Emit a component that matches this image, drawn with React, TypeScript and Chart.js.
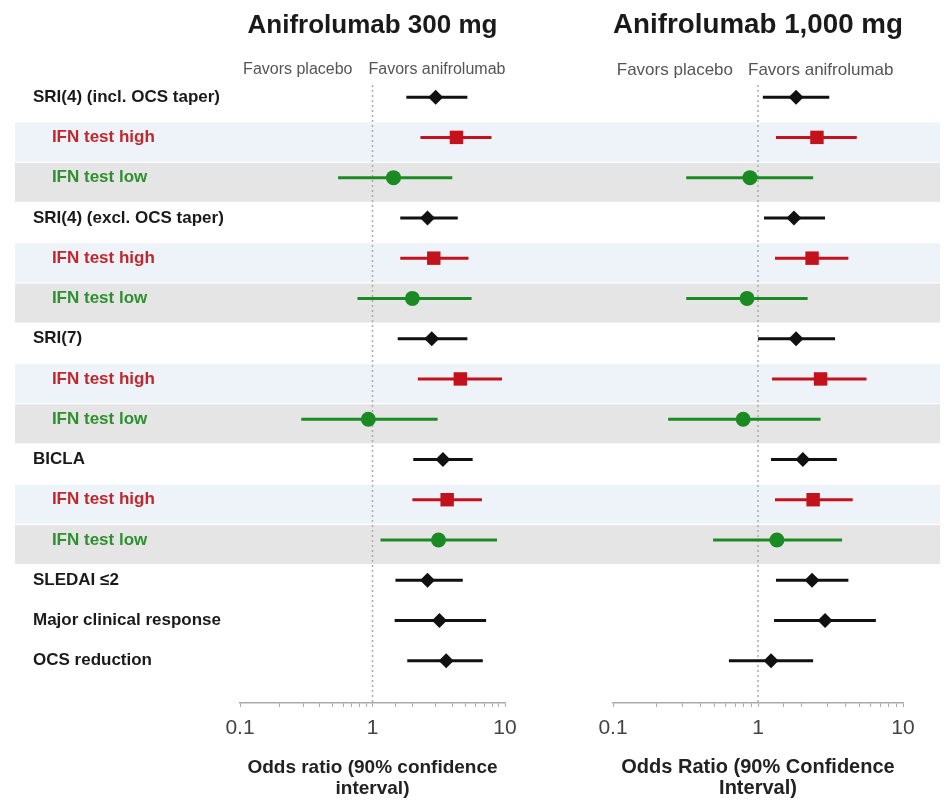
import React, { useEffect, useRef } from 'react';
import { Chart, registerables } from 'chart.js';

Chart.register(...registerables);

const rowLabels = [
  'SRI(4) (incl. OCS taper)', 'IFN test high', 'IFN test low',
  'SRI(4) (excl. OCS taper)', 'IFN test high', 'IFN test low',
  'SRI(7)', 'IFN test high', 'IFN test low',
  'BICLA', 'IFN test high', 'IFN test low',
  'SLEDAI ≤2', 'Major clinical response', 'OCS reduction',
];
const rowGroups = ['all', 'high', 'low', 'all', 'high', 'low', 'all', 'high', 'low', 'all', 'high', 'low', 'all', 'all', 'all'];

const or300 = [3.0, 4.3, 1.44, 2.6, 2.9, 2.0, 2.8, 4.6, 0.93, 3.4, 3.66, 3.15, 2.6, 3.2, 3.6];
const lo300 = [1.8, 2.3, 0.55, 1.62, 1.62, 0.77, 1.55, 2.2, 0.29, 2.03, 2.0, 1.15, 1.49, 1.47, 1.83];
const hi300 = [5.2, 7.9, 4.0, 4.4, 5.3, 5.6, 5.2, 9.5, 3.1, 5.7, 6.7, 8.7, 4.8, 7.2, 6.8];

const or1000 = [1.83, 2.55, 0.88, 1.77, 2.36, 0.84, 1.83, 2.7, 0.79, 2.04, 2.4, 1.35, 2.36, 2.9, 1.23];
const lo1000 = [1.08, 1.33, 0.32, 1.1, 1.31, 0.32, 1.0, 1.25, 0.24, 1.23, 1.31, 0.49, 1.33, 1.29, 0.63];
const hi1000 = [3.1, 4.8, 2.4, 2.9, 4.2, 2.2, 3.4, 5.6, 2.7, 3.5, 4.5, 3.8, 4.2, 6.5, 2.4];

const xTickLabels = [0.1, 1, 10];

const FONT = "'Liberation Sans', Arial, Helvetica, sans-serif";
const groupColor: Record<string, string> = { all: '#111111', high: '#c4121c', low: '#1c8a22' };
const labelColor: Record<string, string> = { all: '#1a1a1a', high: '#c0282d', low: '#2f9030' };
const bandColor: Record<string, string> = { high: '#eef3f9', low: '#e5e5e5' };

type PanelOpts = {
  or: number[]; lo: number[]; hi: number[];
  title: string; titleSize: number; titlePad: { top: number; bottom: number };
  axisTitle: string[]; axisTitleSize: number;
  showLabels: boolean; padLeft: number; padRight: number; yWidth: number;
  bandLeft: number; bandRight: number;
  favorsFont: number; placeboGap: number; anifroGap: number;
};

function buildChart(canvas: HTMLCanvasElement, o: PanelOpts) {
  const forestPlugin = {
    id: 'forest',
    beforeDraw(chart: any) {
      const { ctx } = chart;
      const y = chart.scales.y;
      ctx.save();
      rowGroups.forEach((g, i) => {
        if (g === 'all') return;
        const t = y.getPixelForValue(i - 0.37);
        const b = y.getPixelForValue(i + 0.6);
        ctx.fillStyle = bandColor[g];
        ctx.fillRect(o.bandLeft, Math.min(t, b), o.bandRight - o.bandLeft, Math.abs(b - t));
      });
      ctx.restore();
    },
    beforeDatasetsDraw(chart: any) {
      const { ctx, chartArea } = chart;
      const x = chart.scales.x;
      const y = chart.scales.y;
      const x1 = x.getPixelForValue(1);
      ctx.save();
      ctx.strokeStyle = '#aaaaaa';
      ctx.lineWidth = 1.5;
      ctx.setLineDash([2, 3]);
      ctx.beginPath();
      ctx.moveTo(x1, chartArea.top + 8);
      ctx.lineTo(x1, chartArea.bottom);
      ctx.stroke();
      ctx.setLineDash([]);
      ctx.lineWidth = 3;
      rowGroups.forEach((g, i) => {
        const yy = y.getPixelForValue(i);
        ctx.strokeStyle = groupColor[g];
        ctx.beginPath();
        ctx.moveTo(x.getPixelForValue(o.lo[i]), yy);
        ctx.lineTo(x.getPixelForValue(o.hi[i]), yy);
        ctx.stroke();
      });
      ctx.font = `${o.favorsFont}px ${FONT}`;
      ctx.fillStyle = '#555555';
      ctx.textBaseline = 'middle';
      ctx.textAlign = 'right';
      ctx.fillText('Favors placebo', x1 - o.placeboGap, 70);
      ctx.textAlign = 'left';
      ctx.fillText('Favors anifrolumab', x1 - o.anifroGap, 70);
      ctx.restore();
    },
  };

  const mk = (g: string, style: string, radius: number) => ({
    label: g,
    data: rowGroups.map((gg, i) => (gg === g ? { x: o.or[i], y: i } : null)).filter(Boolean),
    pointStyle: style,
    pointRadius: radius,
    pointHoverRadius: radius,
    backgroundColor: groupColor[g],
    borderColor: groupColor[g],
    borderWidth: 0,
    showLine: false,
  });

  return new Chart(canvas, {
    type: 'scatter',
    data: {
      datasets: [mk('all', 'rectRot', 7.5), mk('high', 'rect', 9.5), mk('low', 'circle', 7.5)] as any,
    },
    plugins: [forestPlugin],
    options: {
      animation: false,
      responsive: false,
      events: [],
      layout: { padding: { left: o.padLeft, right: o.padRight, top: 0, bottom: 0 } },
      plugins: {
        legend: { display: false },
        tooltip: { enabled: false },
        title: {
          display: true,
          text: o.title,
          fullSize: false,
          color: '#1a1a1a',
          font: { size: o.titleSize, weight: 'bold', family: FONT },
          padding: o.titlePad,
        } as any,
      },
      scales: {
        x: {
          type: 'logarithmic',
          min: 0.1,
          max: 10,
          position: 'bottom',
          grid: { display: true, drawOnChartArea: false, drawTicks: true, tickLength: 4, color: '#aaaaaa' },
          border: { display: true, color: '#aaaaaa', width: 1.5 },
          ticks: {
            autoSkip: false,
            maxRotation: 0,
            padding: 9,
            color: '#444444',
            font: { size: 21, family: FONT },
            callback: (v: any) => {
              const n = Number(v);
              const hit = xTickLabels.find((t) => Math.abs(n - t) / t < 1e-6);
              return hit !== undefined ? String(hit) : '';
            },
          },
          title: {
            display: true,
            text: o.axisTitle,
            color: '#222222',
            font: { size: o.axisTitleSize, weight: 'bold', family: FONT, lineHeight: '21px' },
            padding: { top: 4, bottom: 2 },
          },
          afterFit: (s: any) => { s.height = 98; },
        } as any,
        y: {
          type: 'linear',
          display: o.showLabels,
          min: -0.5,
          max: 15.05,
          reverse: true,
          grid: { display: false },
          border: { display: false },
          afterBuildTicks: (s: any) => { s.ticks = rowLabels.map((_, i) => ({ value: i })); },
          ticks: {
            autoSkip: false,
            crossAlign: 'far',
            font: { size: 17, weight: 'bold', family: FONT },
            color: (c: any) => labelColor[rowGroups[c.index]] || '#1a1a1a',
            callback: (v: any) => {
              const i = Math.round(Number(v));
              return rowGroups[i] === 'all' ? rowLabels[i] : '    ' + rowLabels[i];
            },
          },
          afterFit: (s: any) => { s.width = o.yWidth; },
        } as any,
      },
    },
  });
}

function Panel(props: { opts: PanelOpts; left: number; width: number }) {
  const ref = useRef<HTMLCanvasElement | null>(null);
  useEffect(() => {
    if (!ref.current) return;
    const chart = buildChart(ref.current, props.opts);
    return () => chart.destroy();
  }, []);
  return (
    <div style={{ position: 'absolute', left: props.left, top: 0, width: props.width, height: 801 }}>
      <canvas ref={ref} width={props.width} height={801} style={{ width: props.width, height: 801, display: 'block' }} />
    </div>
  );
}

export default function App() {
  const left: PanelOpts = {
    or: or300, lo: lo300, hi: hi300,
    title: 'Anifrolumab 300 mg', titleSize: 26, titlePad: { top: 10, bottom: 35.8 },
    axisTitle: ['Odds ratio (90% confidence', 'interval)'], axisTitleSize: 19,
    showLabels: true, padLeft: 33, padRight: 55, yWidth: 207,
    bandLeft: 15, bandRight: 560,
    favorsFont: 16, placeboGap: 20, anifroGap: 4,
  };
  const right: PanelOpts = {
    or: or1000, lo: lo1000, hi: hi1000,
    title: 'Anifrolumab 1,000 mg', titleSize: 28, titlePad: { top: 8, bottom: 35.4 },
    axisTitle: ['Odds Ratio (90% Confidence', 'Interval)'], axisTitleSize: 20,
    showLabels: false, padLeft: 53, padRight: 45, yWidth: 0,
    bandLeft: 0, bandRight: 380,
    favorsFont: 17, placeboGap: 25, anifroGap: 10,
  };
  return (
    <div style={{ position: 'fixed', left: 0, top: 0, width: 948, height: 801, background: '#ffffff', overflow: 'hidden' }}>
      <Panel opts={left} left={0} width={560} />
      <Panel opts={right} left={560} width={388} />
    </div>
  );
}
